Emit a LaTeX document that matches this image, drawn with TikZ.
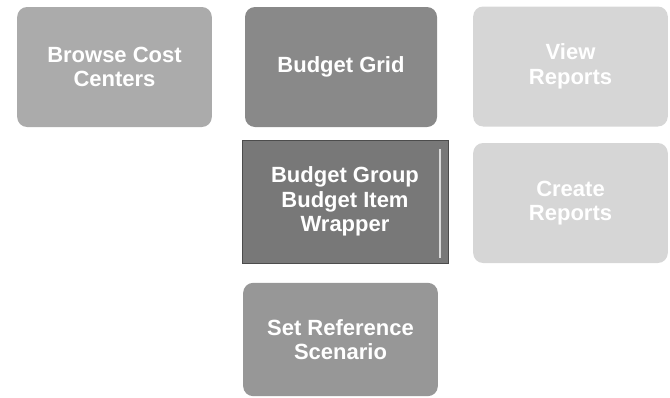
\documentclass[tikz,border=0pt]{standalone}
\usepackage{fontspec}
\setsansfont{Liberation Sans}
\usepackage{xcolor}
\usetikzlibrary{positioning}

\definecolor{browsegray}{HTML}{ABABAB}
\definecolor{gridgray}{HTML}{898989}
\definecolor{reportgray}{HTML}{D6D6D6}
\definecolor{groupgray}{HTML}{787878}
\definecolor{refgray}{HTML}{979797}

\begin{document}
\begin{tikzpicture}[x=0.75pt,y=-0.75pt,
  block/.style={rounded corners=7.5pt,align=center,text=white,inner sep=0pt,
    font=\sffamily\bfseries\fontsize{16.5}{18.5}\selectfont},
  wide/.style={minimum width=146pt,minimum height=90pt}]
  \useasboundingbox (0,0) rectangle (670,397);
  % top row
  \node[block,wide,fill=browsegray] (browse) at (114.5,67) {Browse Cost\\Centers};
  \node[block,wide,fill=gridgray,minimum width=144pt] (grid) at (341,67) {Budget Grid};
  \node[block,wide,fill=reportgray] (view) at (570.5,66.5) {View\\Reports};
  % middle row
  \node[block,fill=groupgray,draw=black!70,rounded corners=0pt,
    minimum width=154.5pt,minimum height=92pt] (group) at (345,201.5)
    {Budget Group\\Budget Item\\Wrapper};
  \draw[white!85!black,line width=1.2pt] ([xshift=-6pt,yshift=-7pt]group.north east) -- ([xshift=-6pt,yshift=4pt]group.south east);
  \node[block,wide,fill=reportgray] (create) at (570.5,203) {Create\\Reports};
  % bottom row
  \node[block,fill=refgray,minimum width=146pt,minimum height=85pt] (setref) at (340.5,339.5) {Set Reference\\Scenario};
\end{tikzpicture}
\end{document}
